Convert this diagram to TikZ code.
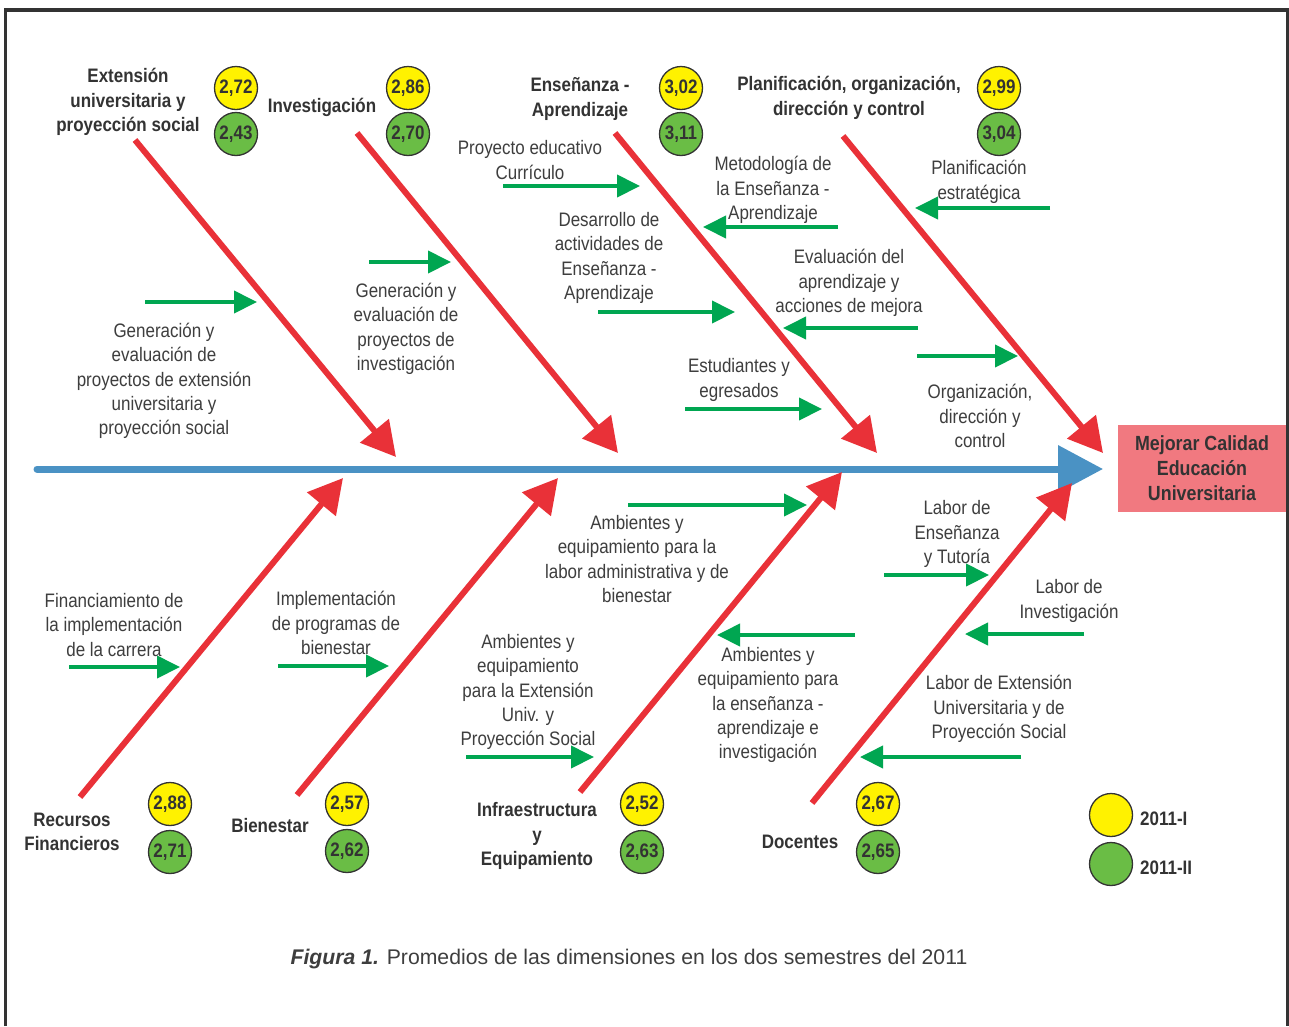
\documentclass[tikz,border=0pt]{standalone}
\usepackage{fontspec}
\setmainfont[FakeStretch=0.87]{Liberation Sans}
\newfontfamily\capfont{Liberation Sans}
\usetikzlibrary{arrows.meta}
\definecolor{bonered}{RGB}{233,49,56}
\definecolor{spineblue}{RGB}{74,146,196}
\definecolor{arrgreen}{RGB}{0,166,81}
\definecolor{yel}{RGB}{255,242,0}
\definecolor{grn}{RGB}{106,189,69}
\definecolor{pinkbox}{RGB}{241,121,128}
\definecolor{txt}{RGB}{62,62,62}
\definecolor{framec}{RGB}{51,51,51}
\begin{document}
\begin{tikzpicture}[x=1pt,y=-1pt,
  bone/.style={draw=bonered, line width=6pt, -{Triangle[length=34pt,width=36pt]}},
  spine/.style={draw=spineblue, line width=7pt, line cap=round, -{Triangle[length=45pt,width=46pt]}},
  garrow/.style={draw=arrgreen, line width=4pt, -{Triangle[length=23pt,width=22pt]}},
  lbl/.style={align=center, text=txt, inner sep=0pt, yshift=-2pt, font=\fontsize{19.5}{24.4}\selectfont},
  ttl/.style={align=center, text=framec, inner sep=0pt, yshift=-2pt, font=\fontsize{19.5}{24.4}\selectfont\bfseries},
  circ/.style={circle, draw=framec, line width=1.3pt, minimum size=43pt, inner sep=0pt, text=framec, font=\fontsize{19.5}{19.5}\selectfont\bfseries},
  yc/.style={circ, fill=yel},
  gc/.style={circ, fill=grn},
  goalbox/.style={rectangle, fill=pinkbox, minimum width=168pt, minimum height=87pt, align=center, text=framec, font=\fontsize{20.5}{25}\selectfont\bfseries, inner sep=0pt}
]
\useasboundingbox (0,0) rectangle (1289,1026);
\fill[white] (0,0) rectangle (1289,1026);
% frame
\coordinate (f1) at (5.5,1026);
\coordinate (f2) at (5.5,10);
\coordinate (f3) at (1287.5,10);
\coordinate (f4) at (1287.5,1026);
\draw[framec, line width=3.5pt] (f1) -- (f2) -- (f3) -- (f4);

% goal
\node[goalbox] (goal) at (1202,468) {Mejorar Calidad\\Educación\\Universitaria};

% spine
\coordinate (sp0) at (37,469);
\coordinate (sp1) at (1103,469);
\draw[spine] (sp0) -- (sp1);

% top bones
\coordinate (t1a) at (135,140); \coordinate (t1b) at (396,457);
\coordinate (t2a) at (357,133); \coordinate (t2b) at (618,453);
\coordinate (t3a) at (615,133); \coordinate (t3b) at (877,453);
\coordinate (t4a) at (843,136); \coordinate (t4b) at (1103,453);
\draw[bone] (t1a) -- (t1b);
\draw[bone] (t2a) -- (t2b);
\draw[bone] (t3a) -- (t3b);
\draw[bone] (t4a) -- (t4b);

% bottom bones
\coordinate (b1a) at (80,797); \coordinate (b1b) at (343,478);
\coordinate (b2a) at (297,795); \coordinate (b2b) at (558,478);
\coordinate (b3a) at (580,792); \coordinate (b3b) at (842,472);
\coordinate (b4a) at (812,803); \coordinate (b4b) at (1072,483);
\draw[bone] (b1a) -- (b1b);
\draw[bone] (b2a) -- (b2b);
\draw[bone] (b3a) -- (b3b);
\draw[bone] (b4a) -- (b4b);

% green arrows top
\coordinate (g1a) at (145,302); \coordinate (g1b) at (257,302);
\coordinate (g2a) at (369,262); \coordinate (g2b) at (451,262);
\coordinate (g3a) at (503,186); \coordinate (g3b) at (640,186);
\coordinate (g4a) at (838,227); \coordinate (g4b) at (703,227);
\coordinate (g5a) at (598,312); \coordinate (g5b) at (735,312);
\coordinate (g6a) at (918,328); \coordinate (g6b) at (783,328);
\coordinate (g7a) at (685,409); \coordinate (g7b) at (822,409);
\coordinate (g8a) at (917,356); \coordinate (g8b) at (1018,356);
\coordinate (g9a) at (1050,208); \coordinate (g9b) at (915,208);
\foreach \i in {1,...,9} {\draw[garrow] (g\i a) -- (g\i b);}

% green arrows bottom
\coordinate (h1a) at (69,667); \coordinate (h1b) at (180,667);
\coordinate (h2a) at (278,666); \coordinate (h2b) at (389,666);
\coordinate (h3a) at (628,505); \coordinate (h3b) at (807,505);
\coordinate (h4a) at (855,635); \coordinate (h4b) at (717,635);
\coordinate (h5a) at (466,757); \coordinate (h5b) at (594,757);
\coordinate (h6a) at (884,575); \coordinate (h6b) at (989,575);
\coordinate (h7a) at (1084,634); \coordinate (h7b) at (965,634);
\coordinate (h8a) at (1021,757); \coordinate (h8b) at (860,757);
\foreach \i in {1,...,8} {\draw[garrow] (h\i a) -- (h\i b);}

% top titles
\node[ttl] (T1) at (128,100) {Extensión\\universitaria y\\proyección social};
\node[ttl] (T2) at (322,105) {Investigación};
\node[ttl] (T3) at (580,97) {Enseñanza -\\Aprendizaje};
\node[ttl] (T4) at (849,96) {Planificación, organización,\\dirección y control};
\node[yc] (c1y) at (236,88) {2,72};  \node[gc] (c1g) at (236,134) {2,43};
\node[yc] (c2y) at (408,88) {2,86};  \node[gc] (c2g) at (408,134) {2,70};
\node[yc] (c3y) at (681,88) {3,02};  \node[gc] (c3g) at (681,134) {3,11};
\node[yc] (c4y) at (999,88) {2,99};  \node[gc] (c4g) at (999,134) {3,04};

% bottom titles
\node[ttl] (B1) at (72,830) {Recursos\\Financieros};
\node[ttl] (B2) at (270,824) {Bienestar};
\node[ttl] (B3) at (537,834) {Infraestructura\\y\\Equipamiento};
\node[ttl] (B4) at (800,840) {Docentes};
\node[yc] (d1y) at (170,804) {2,88};  \node[gc] (d1g) at (170,852) {2,71};
\node[yc] (d2y) at (347,804) {2,57};  \node[gc] (d2g) at (347,851) {2,62};
\node[yc] (d3y) at (642,804) {2,52};  \node[gc] (d3g) at (642,852) {2,63};
\node[yc] (d4y) at (878,804) {2,67};  \node[gc] (d4g) at (878,852) {2,65};

% legend
\node[yc] (ly) at (1111,815) {};
\node[gc] (lg) at (1111,864) {};
\node[ttl, anchor=west] (lyt) at (1140,817) {2011-I};
\node[ttl, anchor=west] (lgt) at (1140,866) {2011-II};

% labels top
\node[lbl] (L1) at (164,379) {Generación y\\evaluación de\\proyectos de extensión\\universitaria y\\proyección social};
\node[lbl] (L2) at (406,327) {Generación y\\evaluación de\\proyectos de\\investigación};
\node[lbl] (L3) at (530,158) {Proyecto educativo\\Currículo};
\node[lbl] (L4) at (773,188) {Metodología de\\la Enseñanza -\\Aprendizaje};
\node[lbl] (L5) at (609,256) {Desarrollo de\\actividades de\\Enseñanza -\\Aprendizaje};
\node[lbl] (L6) at (849,281) {Evaluación del\\aprendizaje y\\acciones de mejora};
\node[lbl] (L7) at (739,378) {Estudiantes y\\egresados};
\node[lbl] (L8) at (979,180) {Planificación\\estratégica};
\node[lbl] (L9) at (980,414) {Organización,\\dirección y\\control};

% labels bottom
\node[lbl] (M1) at (114,623) {Financiamiento de\\la implementación\\de la carrera};
\node[lbl] (M2) at (336,621) {Implementación\\de programas de\\bienestar};
\node[lbl] (M3) at (637,557) {Ambientes y\\equipamiento para la\\labor administrativa y de\\bienestar};
\node[lbl] (M4) at (528,690) {Ambientes y\\equipamiento\\para la Extensión\\Univ. y\\Proyección Social};
\node[lbl] (M5) at (768,703) {Ambientes y\\equipamiento para\\la enseñanza -\\aprendizaje e\\investigación};
\node[lbl] (M6) at (957,532) {Labor de\\Enseñanza\\y Tutoría};
\node[lbl] (M7) at (1069,599) {Labor de\\Investigación};
\node[lbl] (M8) at (999,707) {Labor de Extensión\\Universitaria y de\\Proyección Social};

% caption
\node[text=txt, inner sep=0pt, font=\capfont\fontsize{21.2}{25}\selectfont] (cap) at (629,959) {\textbf{\textit{Figura 1.}} Promedios de las dimensiones en los dos semestres del 2011};
\end{tikzpicture}
\end{document}
